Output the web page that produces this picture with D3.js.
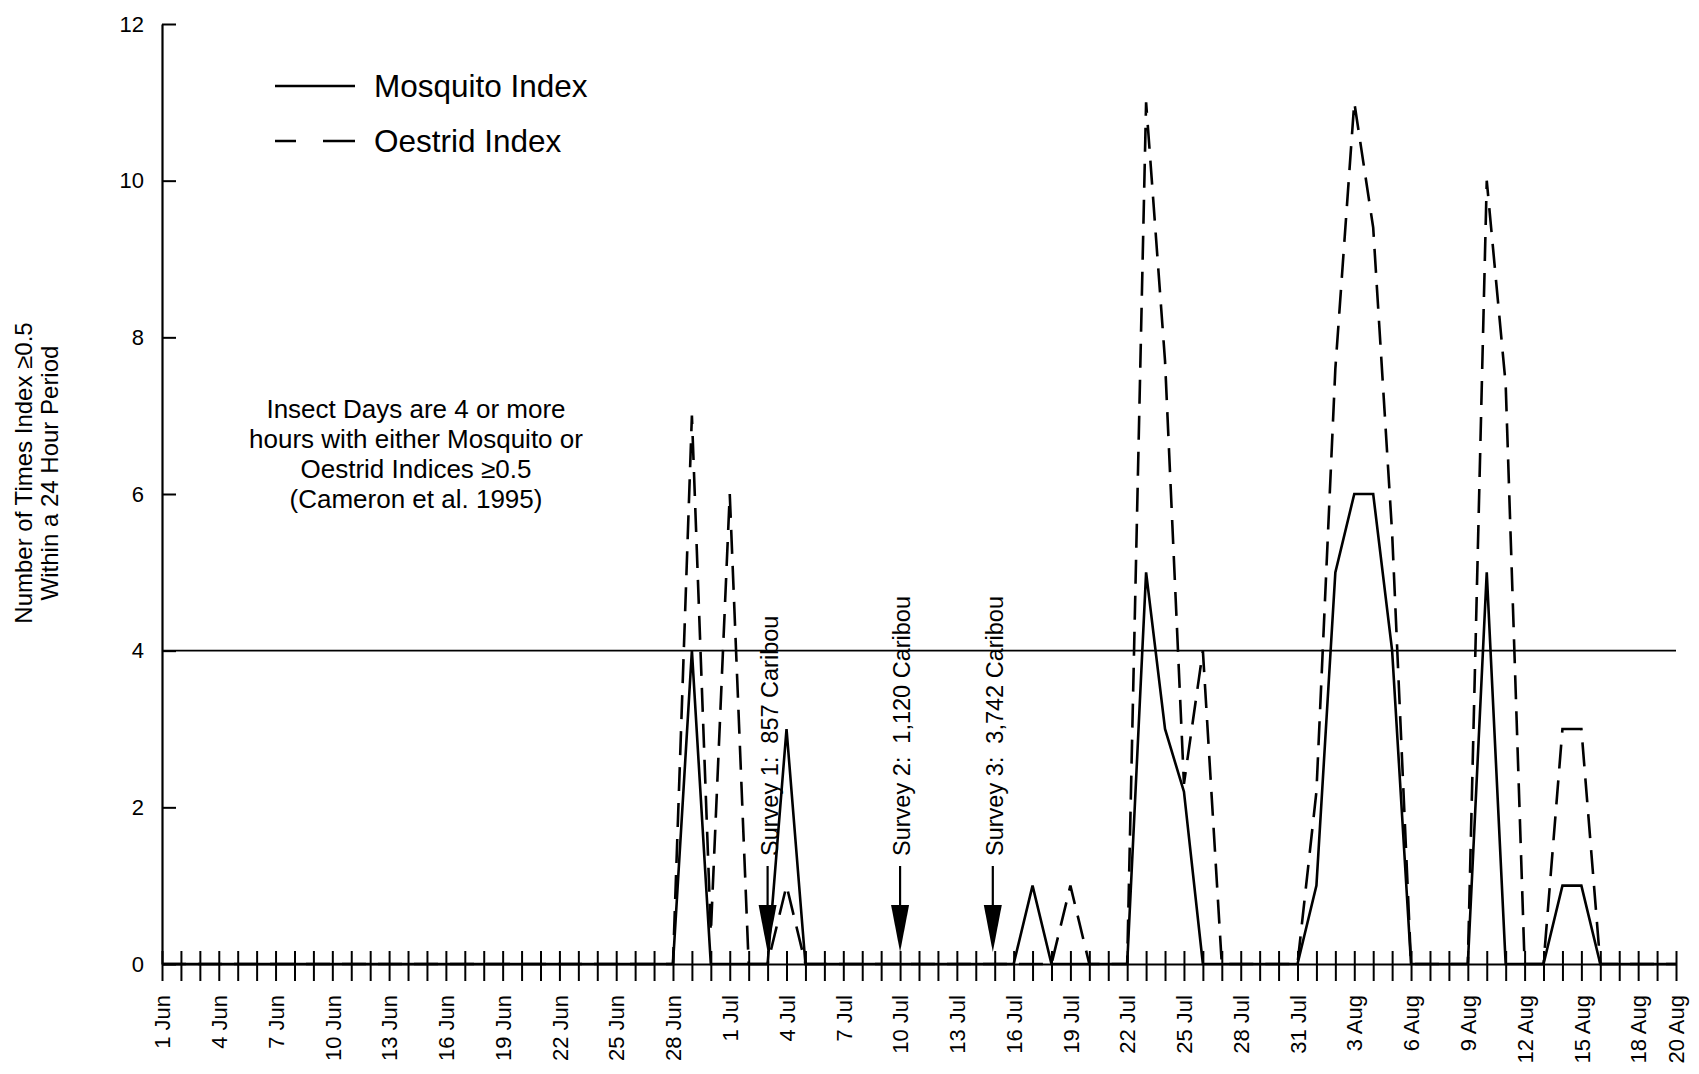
<!DOCTYPE html>
<html lang="en">
<head>
  <meta charset="utf-8">
  <title>Mosquito and Oestrid Index</title>
  <script src="https://cdnjs.cloudflare.com/ajax/libs/d3/7.8.5/d3.min.js"></script>
  <style>
    body {
      margin: 0;
      background: #fff;
    }
    svg text {
      font-family: "Liberation Sans", Arial, Helvetica, sans-serif;
      fill: #000;
    }
  </style>
</head>
<body>
  <svg id="chart" width="1699" height="1074"></svg>

  <script>
    //
    // Data (day 0 = 1 Jun, day 80 = 20 Aug)
    //

    var days = d3.range(0, 81)

    // Mosquito index, one value per day
    var mosquito = [
      0, 0, 0, 0, 0, 0, 0, 0, 0, 0,
      0, 0, 0, 0, 0, 0, 0, 0, 0, 0,
      0, 0, 0, 0, 0, 0, 0, 0, 4, 0,
      0, 0, 0, 3, 0, 0, 0, 0, 0, 0,
      0, 0, 0, 0, 0, 0, 1, 0, 0, 0,
      0, 0, 5, 3, 2.2, 0, 0, 0, 0, 0,
      0, 1, 5, 6, 6, 4, 0, 0, 0, 0,
      5, 0, 0, 0, 1, 1, 0, 0, 0, 0,
      0
    ]

    // Oestrid index, one value per day
    var oestrid = [
      0, 0, 0, 0, 0, 0, 0, 0, 0, 0,
      0, 0, 0, 0, 0, 0, 0, 0, 0, 0,
      0, 0, 0, 0, 0, 0, 0, 0, 7, 0.4,
      6, 0, 0, 1, 0, 0, 0, 0, 0, 0,
      0, 0, 0, 0, 0, 0, 0, 0, 1, 0,
      0, 0, 11, 7.7, 2.3, 4, 0, 0, 0, 0,
      0, 2.2, 7.6, 11, 9.4, 5.5, 0, 0, 0, 0,
      10, 7.4, 0, 0, 3, 3, 0, 0, 0, 0,
      0
    ]

    var tickDays = [0, 3, 6, 9, 12, 15, 18, 21, 24, 27, 30, 33, 36, 39, 42, 45, 48, 51, 54, 57, 60, 63, 66, 69, 72, 75, 78, 80]
    var tickLabels = ['1 Jun', '4 Jun', '7 Jun', '10 Jun', '13 Jun', '16 Jun', '19 Jun', '22 Jun', '25 Jun', '28 Jun',
      '1 Jul', '4 Jul', '7 Jul', '10 Jul', '13 Jul', '16 Jul', '19 Jul', '22 Jul', '25 Jul', '28 Jul', '31 Jul',
      '3 Aug', '6 Aug', '9 Aug', '12 Aug', '15 Aug', '18 Aug', '20 Aug']

    var yTicks = [0, 2, 4, 6, 8, 10, 12]
    var threshold = 4

    var surveyDays = [32, 39, 43.9]
    var surveyLabels = ['Survey 1:  857 Caribou', 'Survey 2:  1,120 Caribou', 'Survey 3:  3,742 Caribou']

    var legendNames = ['Mosquito Index', 'Oestrid Index']

    var noteLines = ['Insect Days are 4 or more', 'hours with either Mosquito or', 'Oestrid Indices \u22650.5', '(Cameron et al. 1995)']
    var yTitle = ['Number of Times Index \u22650.5', 'Within a 24 Hour Period']

    //
    // Layout
    //

    var svg = d3.select('#chart')
    var x = d3.scaleLinear().domain([0, 80]).range([162, 1676])
    var y = d3.scaleLinear().domain([0, 12]).range([964, 24])
    var dashed = '24,12'

    // x axis: a tick every day, crossing the axis line
    var labelFor = {}
    tickDays.forEach(function(d, i) { labelFor[d] = tickLabels[i] })

    var xAxis = svg.append('g')
      .attr('transform', 'translate(0,' + y(0) + ')')
      .call(d3.axisBottom(x)
        .tickValues(days)
        .tickSize(17)
        .tickSizeOuter(0)
        .tickFormat(function(d) { return labelFor[d] || '' }))
    xAxis.select('.domain').attr('stroke-width', 2.2)
    xAxis.selectAll('.tick line').attr('y1', -13).attr('stroke-width', 2)
    xAxis.selectAll('.tick text')
      .attr('transform', 'rotate(-90)')
      .attr('x', -31)
      .attr('y', 0)
      .attr('dy', '0.35em')
      .attr('text-anchor', 'end')
      .style('font-size', '22px')
      .style('font-family', '"Liberation Sans", Arial, sans-serif')

    // y axis
    var yAxis = svg.append('g')
      .attr('transform', 'translate(' + x(0) + ',0)')
      .call(d3.axisLeft(y)
        .tickValues(yTicks)
        .tickSize(14)
        .tickPadding(4)
        .tickSizeOuter(0))
    yAxis.select('.domain').attr('stroke-width', 2.2)
    yAxis.selectAll('.tick line').attr('x2', 14).attr('stroke-width', 2)
    yAxis.selectAll('.tick text')
      .style('font-size', '22px')
      .style('font-family', '"Liberation Sans", Arial, sans-serif')

    // threshold line at 4
    svg.append('line')
      .attr('x1', x(0)).attr('x2', x(80))
      .attr('y1', y(threshold)).attr('y2', y(threshold))
      .attr('stroke', '#000')
      .attr('stroke-width', 1.8)

    // series
    var line = d3.line()
      .x(function(d, i) { return x(days[i]) })
      .y(function(d) { return y(d) })

    svg.append('path')
      .datum(oestrid)
      .attr('d', line)
      .attr('fill', 'none')
      .attr('stroke', '#000')
      .attr('stroke-width', 2.6)
      .attr('stroke-dasharray', dashed)

    svg.append('path')
      .datum(mosquito)
      .attr('d', line)
      .attr('fill', 'none')
      .attr('stroke', '#000')
      .attr('stroke-width', 2.6)
      .attr('stroke-linejoin', 'miter')

    // survey arrows
    surveyDays.forEach(function(d, i) {
      var sx = x(d)
      svg.append('line')
        .attr('x1', sx).attr('x2', sx)
        .attr('y1', 866).attr('y2', 908)
        .attr('stroke', '#000')
        .attr('stroke-width', 2.2)
      svg.append('path')
        .attr('d', 'M' + (sx - 9) + ',905L' + (sx + 9) + ',905L' + sx + ',952Z')
        .attr('fill', '#000')
      svg.append('text')
        .attr('transform', 'translate(' + (sx + 2) + ',856) rotate(-90)')
        .attr('dy', '0.35em')
        .style('font-size', '23.5px')
        .style('white-space', 'pre')
        .text(surveyLabels[i])
    })

    // legend
    var legend = svg.append('g')
    legendNames.forEach(function(name, i) {
      var ly = 86 + i * 55
      legend.append('line')
        .attr('x1', 275).attr('x2', 355)
        .attr('y1', ly).attr('y2', ly)
        .attr('stroke', '#000')
        .attr('stroke-width', 2.4)
        .attr('stroke-dasharray', i === 1 ? '21,27,32' : null)
      legend.append('text')
        .attr('x', 374)
        .attr('y', ly + 11)
        .style('font-size', '31.5px')
        .text(name)
    })

    // note
    svg.append('g')
      .selectAll('text')
      .data(noteLines)
      .join('text')
      .attr('x', 416)
      .attr('y', function(d, i) { return 418 + i * 30 })
      .attr('text-anchor', 'middle')
      .style('font-size', '26px')
      .text(function(d) { return d })

    // y axis title
    svg.append('g')
      .selectAll('text')
      .data(yTitle)
      .join('text')
      .attr('transform', function(d, i) { return 'translate(' + (24 + i * 26) + ',473) rotate(-90)' })
      .attr('dy', '0.35em')
      .attr('text-anchor', 'middle')
      .style('font-size', '24px')
      .text(function(d) { return d })
  </script>
</body>
</html>
